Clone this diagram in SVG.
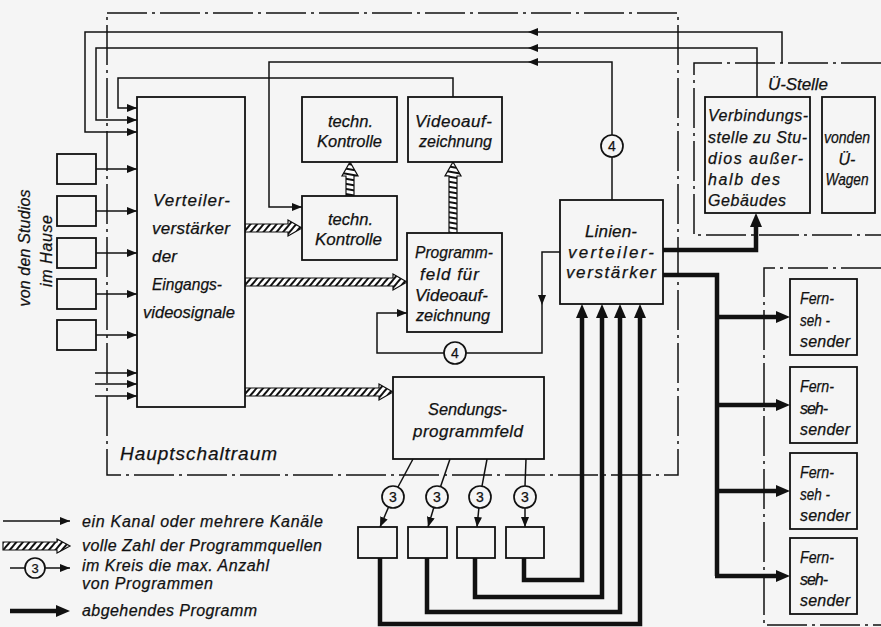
<svg xmlns="http://www.w3.org/2000/svg" width="881" height="627" viewBox="0 0 881 627">
<style>
.ln{fill:none;stroke:#111;stroke-width:1.5}
.bx{fill:#f5f5f5;stroke:#111;stroke-width:1.8}
.dd{fill:none;stroke:#111;stroke-width:1.5;stroke-dasharray:40 5 3 5}
.tk{fill:none;stroke:#111;stroke-width:4.5}
.ci{fill:#f5f5f5;stroke:#111;stroke-width:1.7}
.hat{fill:url(#hatch);stroke:#111;stroke-width:1.2}
.hatv{fill:url(#hatchV);stroke:#111;stroke-width:1.2}
text{font-family:"Liberation Sans","DejaVu Sans",sans-serif;font-style:italic;font-size:17px;fill:#111;stroke:#111;stroke-width:0.25}
.s16{font-size:16px}
.n{font-size:14px;font-style:normal;text-anchor:middle}
</style>
<defs>
<pattern id="hatch" patternUnits="userSpaceOnUse" width="5" height="5" patternTransform="rotate(40)"><rect width="5" height="5" fill="#fff"/><rect width="2" height="5" fill="#111"/></pattern>
<pattern id="hatchV" patternUnits="userSpaceOnUse" width="5" height="5" patternTransform="rotate(100)"><rect width="5" height="5" fill="#fff"/><rect width="2" height="5" fill="#111"/></pattern>
<marker id="ah" markerUnits="userSpaceOnUse" markerWidth="10" markerHeight="8" refX="10" refY="4" orient="auto"><path d="M0,0 L10,4 L0,8 z" fill="#111"/></marker>
<marker id="ahT" markerUnits="userSpaceOnUse" markerWidth="14" markerHeight="12" refX="6" refY="6" orient="auto"><path d="M0,0 L14,6 L0,12 z" fill="#111"/></marker>
</defs>
<rect width="881" height="627" fill="#f5f5f5"/>

<g id="boundaries">
<rect class="dd" x="107" y="13" width="571" height="462"/>
<path class="dd" d="M881,63 L694,63 L694,235 L881,235"/>
<path class="dd" d="M881,268 L764,268 L764,625 L881,625"/>
</g>

<g id="connectors">
<path class="ln" d="M782,63 L782,32 L528,32" marker-end="url(#ah)"/>
<path class="ln" d="M528,32 L85,32 L85,132 L137,132" marker-end="url(#ah)"/>
<path class="ln" d="M757,97 L757,48 L528,48" marker-end="url(#ah)"/>
<path class="ln" d="M528,48 L96,48 L96,120 L137,120" marker-end="url(#ah)"/>
<path class="ln" d="M612,200 L612,157"/>
<path class="ln" d="M612,135 L612,62 L528,62" marker-end="url(#ah)"/>
<path class="ln" d="M528,62 L269,62 L269,207 L302,207" marker-end="url(#ah)"/>
<path class="ln" d="M453,97 L453,78 L118,78 L118,108 L137,108" marker-end="url(#ah)"/>
<path class="ln" d="M96,169 L137,169" marker-end="url(#ah)"/>
<path class="ln" d="M96,211 L137,211" marker-end="url(#ah)"/>
<path class="ln" d="M96,253 L137,253" marker-end="url(#ah)"/>
<path class="ln" d="M96,294 L137,294" marker-end="url(#ah)"/>
<path class="ln" d="M96,335 L137,335" marker-end="url(#ah)"/>
<path class="ln" d="M95,373 L137,373" marker-end="url(#ah)"/>
<path class="ln" d="M95,384 L137,384" marker-end="url(#ah)"/>
<path class="ln" d="M95,396 L137,396" marker-end="url(#ah)"/>
<path class="ln" d="M560,252 L542,252 L542,305" marker-end="url(#ah)"/>
<path class="ln" d="M542,305 L542,353 L466,353"/>
<path class="ln" d="M444,353 L377,353 L377,313 L407,313" marker-end="url(#ah)"/>
<polygon class="hat" points="245,224 288,224 288,220 302,228 288,236 288,232 245,232"/>
<polygon class="hat" points="245,278 393,278 393,274 407,282 393,290 393,286 245,286"/>
<polygon class="hat" points="245,388 379,388 379,384 393,392 379,400 379,396 245,396"/>
<polygon class="hatv" points="346,196 346,176 342,176 350,162 358,176 354,176 354,196"/>
<polygon class="hatv" points="449,233 449,176 445,176 453,162 461,176 457,176 457,233"/>
<path class="ln" d="M413,459 L398,487"/>
<path class="ln" d="M388.6,507 L380,527" marker-end="url(#ah)"/>
<path class="ln" d="M450,459 L440.6,486.6"/>
<path class="ln" d="M433.8,507.5 L428,527" marker-end="url(#ah)"/>
<path class="ln" d="M487,459 L482,486.2"/>
<path class="ln" d="M478.9,507.9 L477,527" marker-end="url(#ah)"/>
<path class="ln" d="M526,459 L525,486"/>
<path class="ln" d="M525,508 L525,527" marker-end="url(#ah)"/>
<path class="tk" d="M524,558 L524,580 L582,580 L582,312" marker-end="url(#ahT)"/>
<path class="tk" d="M475,558 L475,597 L602,597 L602,312" marker-end="url(#ahT)"/>
<path class="tk" d="M427,558 L427,612 L620,612 L620,312" marker-end="url(#ahT)"/>
<path class="tk" d="M380,558 L380,624 L640,624 L640,312" marker-end="url(#ahT)"/>
<path class="tk" d="M663,250 L756,250 L756,221" marker-end="url(#ahT)"/>
<path class="tk" d="M663,275 L717,275 L717,576"/>
<path class="tk" d="M717,317 L782,317" marker-end="url(#ahT)"/>
<path class="tk" d="M717,405 L782,405" marker-end="url(#ahT)"/>
<path class="tk" d="M717,491 L782,491" marker-end="url(#ahT)"/>
<path class="tk" d="M715,576 L782,576" marker-end="url(#ahT)"/>
</g>

<g id="circles">
<circle class="ci" cx="612" cy="146" r="11"/><text class="n" x="612" y="151">4</text>
<circle class="ci" cx="455" cy="353" r="11"/><text class="n" x="455" y="358">4</text>
<circle class="ci" cx="393" cy="497" r="11"/><text class="n" x="393" y="502">3</text>
<circle class="ci" cx="437" cy="497" r="11"/><text class="n" x="437" y="502">3</text>
<circle class="ci" cx="480" cy="497" r="11"/><text class="n" x="480" y="502">3</text>
<circle class="ci" cx="525" cy="497" r="11"/><text class="n" x="525" y="502">3</text>
</g>

<g id="studios">
<rect class="bx" x="57" y="154" width="39" height="30"/>
<rect class="bx" x="57" y="196" width="39" height="30"/>
<rect class="bx" x="57" y="238" width="39" height="30"/>
<rect class="bx" x="57" y="279" width="39" height="30"/>
<rect class="bx" x="57" y="320" width="39" height="30"/>
<text class="s16" x="30" y="248" text-anchor="middle" transform="rotate(-90 30 248)" textLength="117" lengthAdjust="spacing">von den Studios</text>
<text class="s16" x="52" y="251" text-anchor="middle" transform="rotate(-90 52 251)" textLength="72" lengthAdjust="spacing">im Hause</text>
</g>

<g id="verteiler">
<rect class="bx" x="137" y="97" width="108" height="310"/>
<text x="153" y="206" textLength="77" lengthAdjust="spacing">Verteiler-</text>
<text x="152" y="234" textLength="78" lengthAdjust="spacing">verstärker</text>
<text x="152" y="262" textLength="25" lengthAdjust="spacing">der</text>
<text x="152" y="290" textLength="70" lengthAdjust="spacingAndGlyphs">Eingangs-</text>
<text x="143" y="318" textLength="92" lengthAdjust="spacingAndGlyphs">videosignale</text>
</g>

<g id="techn-kontrolle-oben">
<rect class="bx" x="302" y="97" width="95" height="65"/>
<text x="328" y="127" textLength="45" lengthAdjust="spacingAndGlyphs">techn.</text>
<text x="317" y="147" textLength="65" lengthAdjust="spacingAndGlyphs">Kontrolle</text>
</g>

<g id="videoaufzeichnung">
<rect class="bx" x="408" y="97" width="94" height="65"/>
<text x="415" y="127" textLength="77" lengthAdjust="spacing">Videoauf-</text>
<text x="419" y="147" textLength="73" lengthAdjust="spacingAndGlyphs">zeichnung</text>
</g>

<g id="techn-kontrolle-unten">
<rect class="bx" x="302" y="196" width="95" height="64"/>
<text x="328" y="225" textLength="45" lengthAdjust="spacingAndGlyphs">techn.</text>
<text x="315" y="245" textLength="67" lengthAdjust="spacingAndGlyphs">Kontrolle</text>
</g>

<g id="programmfeld-video">
<rect class="bx" x="407" y="233" width="95" height="99"/>
<text x="415" y="258" textLength="78" lengthAdjust="spacingAndGlyphs">Programm-</text>
<text x="420" y="280" textLength="59" lengthAdjust="spacing">feld für</text>
<text x="415" y="301" textLength="73" lengthAdjust="spacing">Videoauf-</text>
<text x="416" y="321" textLength="74" lengthAdjust="spacingAndGlyphs">zeichnung</text>
</g>

<g id="linienverteiler">
<rect class="bx" x="560" y="200" width="103" height="104"/>
<text x="585" y="237" textLength="52" lengthAdjust="spacing">Linien-</text>
<text x="568" y="258" textLength="86" lengthAdjust="spacing">verteiler-</text>
<text x="566" y="278" textLength="90" lengthAdjust="spacing">verstärker</text>
</g>

<g id="sendungsprogrammfeld">
<rect class="bx" x="393" y="377" width="151" height="82"/>
<text x="428" y="415" textLength="79" lengthAdjust="spacingAndGlyphs">Sendungs-</text>
<text x="413" y="437" textLength="110" lengthAdjust="spacing">programmfeld</text>
</g>

<g id="ausgangsboxen">
<rect class="bx" x="358" y="527" width="39" height="31"/>
<rect class="bx" x="408" y="527" width="39" height="31"/>
<rect class="bx" x="457" y="527" width="38" height="31"/>
<rect class="bx" x="506" y="527" width="38" height="31"/>
</g>

<g id="verbindungsstelle">
<rect class="bx" x="705" y="97" width="105" height="116"/>
<text class="s16" x="708" y="121" textLength="100" lengthAdjust="spacing">Verbindungs-</text>
<text class="s16" x="708" y="143" textLength="99" lengthAdjust="spacing">stelle zu Stu-</text>
<text class="s16" x="708" y="164" textLength="95" lengthAdjust="spacing">dios außer-</text>
<text class="s16" x="708" y="185" textLength="72" lengthAdjust="spacing">halb des</text>
<text class="s16" x="708" y="206" textLength="78" lengthAdjust="spacing">Gebäudes</text>
</g>

<g id="ue-wagen">
<rect class="bx" x="822" y="97" width="53" height="116"/>
<text class="s16" x="847" y="143" text-anchor="middle" textLength="46" lengthAdjust="spacingAndGlyphs">vonden</text>
<text class="s16" x="847" y="165" text-anchor="middle">Ü-</text>
<text class="s16" x="847" y="185" text-anchor="middle" textLength="43" lengthAdjust="spacingAndGlyphs">Wagen</text>
</g>

<g id="ue-stelle-label">
<text x="768" y="90" textLength="60" lengthAdjust="spacing">Ü-Stelle</text>
</g>

<g id="fernsehsender-1">
<rect class="bx" x="790" y="279" width="67" height="76"/>
<text class="s16" x="800" y="304" textLength="34" lengthAdjust="spacingAndGlyphs">Fern-</text>
<text class="s16" x="800" y="326" textLength="30" lengthAdjust="spacingAndGlyphs">seh -</text>
<text class="s16" x="800" y="347" textLength="50" lengthAdjust="spacing">sender</text>
</g>
<g id="fernsehsender-2">
<rect class="bx" x="790" y="367" width="67" height="76"/>
<text class="s16" x="800" y="392" textLength="34" lengthAdjust="spacingAndGlyphs">Fern-</text>
<text class="s16" x="800" y="414" textLength="28" lengthAdjust="spacing">seh-</text>
<text class="s16" x="800" y="435" textLength="50" lengthAdjust="spacing">sender</text>
</g>
<g id="fernsehsender-3">
<rect class="bx" x="790" y="453" width="67" height="76"/>
<text class="s16" x="800" y="478" textLength="34" lengthAdjust="spacingAndGlyphs">Fern-</text>
<text class="s16" x="800" y="500" textLength="30" lengthAdjust="spacingAndGlyphs">seh -</text>
<text class="s16" x="800" y="521" textLength="50" lengthAdjust="spacing">sender</text>
</g>
<g id="fernsehsender-4">
<rect class="bx" x="790" y="538" width="67" height="76"/>
<text class="s16" x="800" y="563" textLength="34" lengthAdjust="spacingAndGlyphs">Fern-</text>
<text class="s16" x="800" y="585" textLength="28" lengthAdjust="spacing">seh-</text>
<text class="s16" x="800" y="606" textLength="50" lengthAdjust="spacing">sender</text>
</g>

<g id="hauptschaltraum-label">
<text x="120" y="460" style="font-size:19px" textLength="157" lengthAdjust="spacing">Hauptschaltraum</text>
</g>

<g id="legend">
<path class="ln" d="M3,521 L70,521" marker-end="url(#ah)"/>
<polygon class="hat" points="3,542 57,542 57,539 70,546 57,553 57,550 3,550"/>
<path class="ln" d="M10,568 L25,568"/>
<circle class="ci" cx="35" cy="568" r="10"/><text class="n" x="35" y="573" style="font-size:13px">3</text>
<path class="ln" d="M45,568 L70,568" marker-end="url(#ah)"/>
<path class="tk" d="M10,611 L62,611" marker-end="url(#ahT)"/>
<text class="s16" x="82" y="527" textLength="241" lengthAdjust="spacing">ein Kanal oder mehrere Kanäle</text>
<text class="s16" x="82" y="551" textLength="240" lengthAdjust="spacing">volle Zahl der Programmquellen</text>
<text class="s16" x="82" y="571" textLength="187" lengthAdjust="spacing">im Kreis die max. Anzahl</text>
<text class="s16" x="82" y="589" textLength="131" lengthAdjust="spacing">von Programmen</text>
<text class="s16" x="82" y="616" textLength="175" lengthAdjust="spacing">abgehendes Programm</text>
</g>
</svg>
